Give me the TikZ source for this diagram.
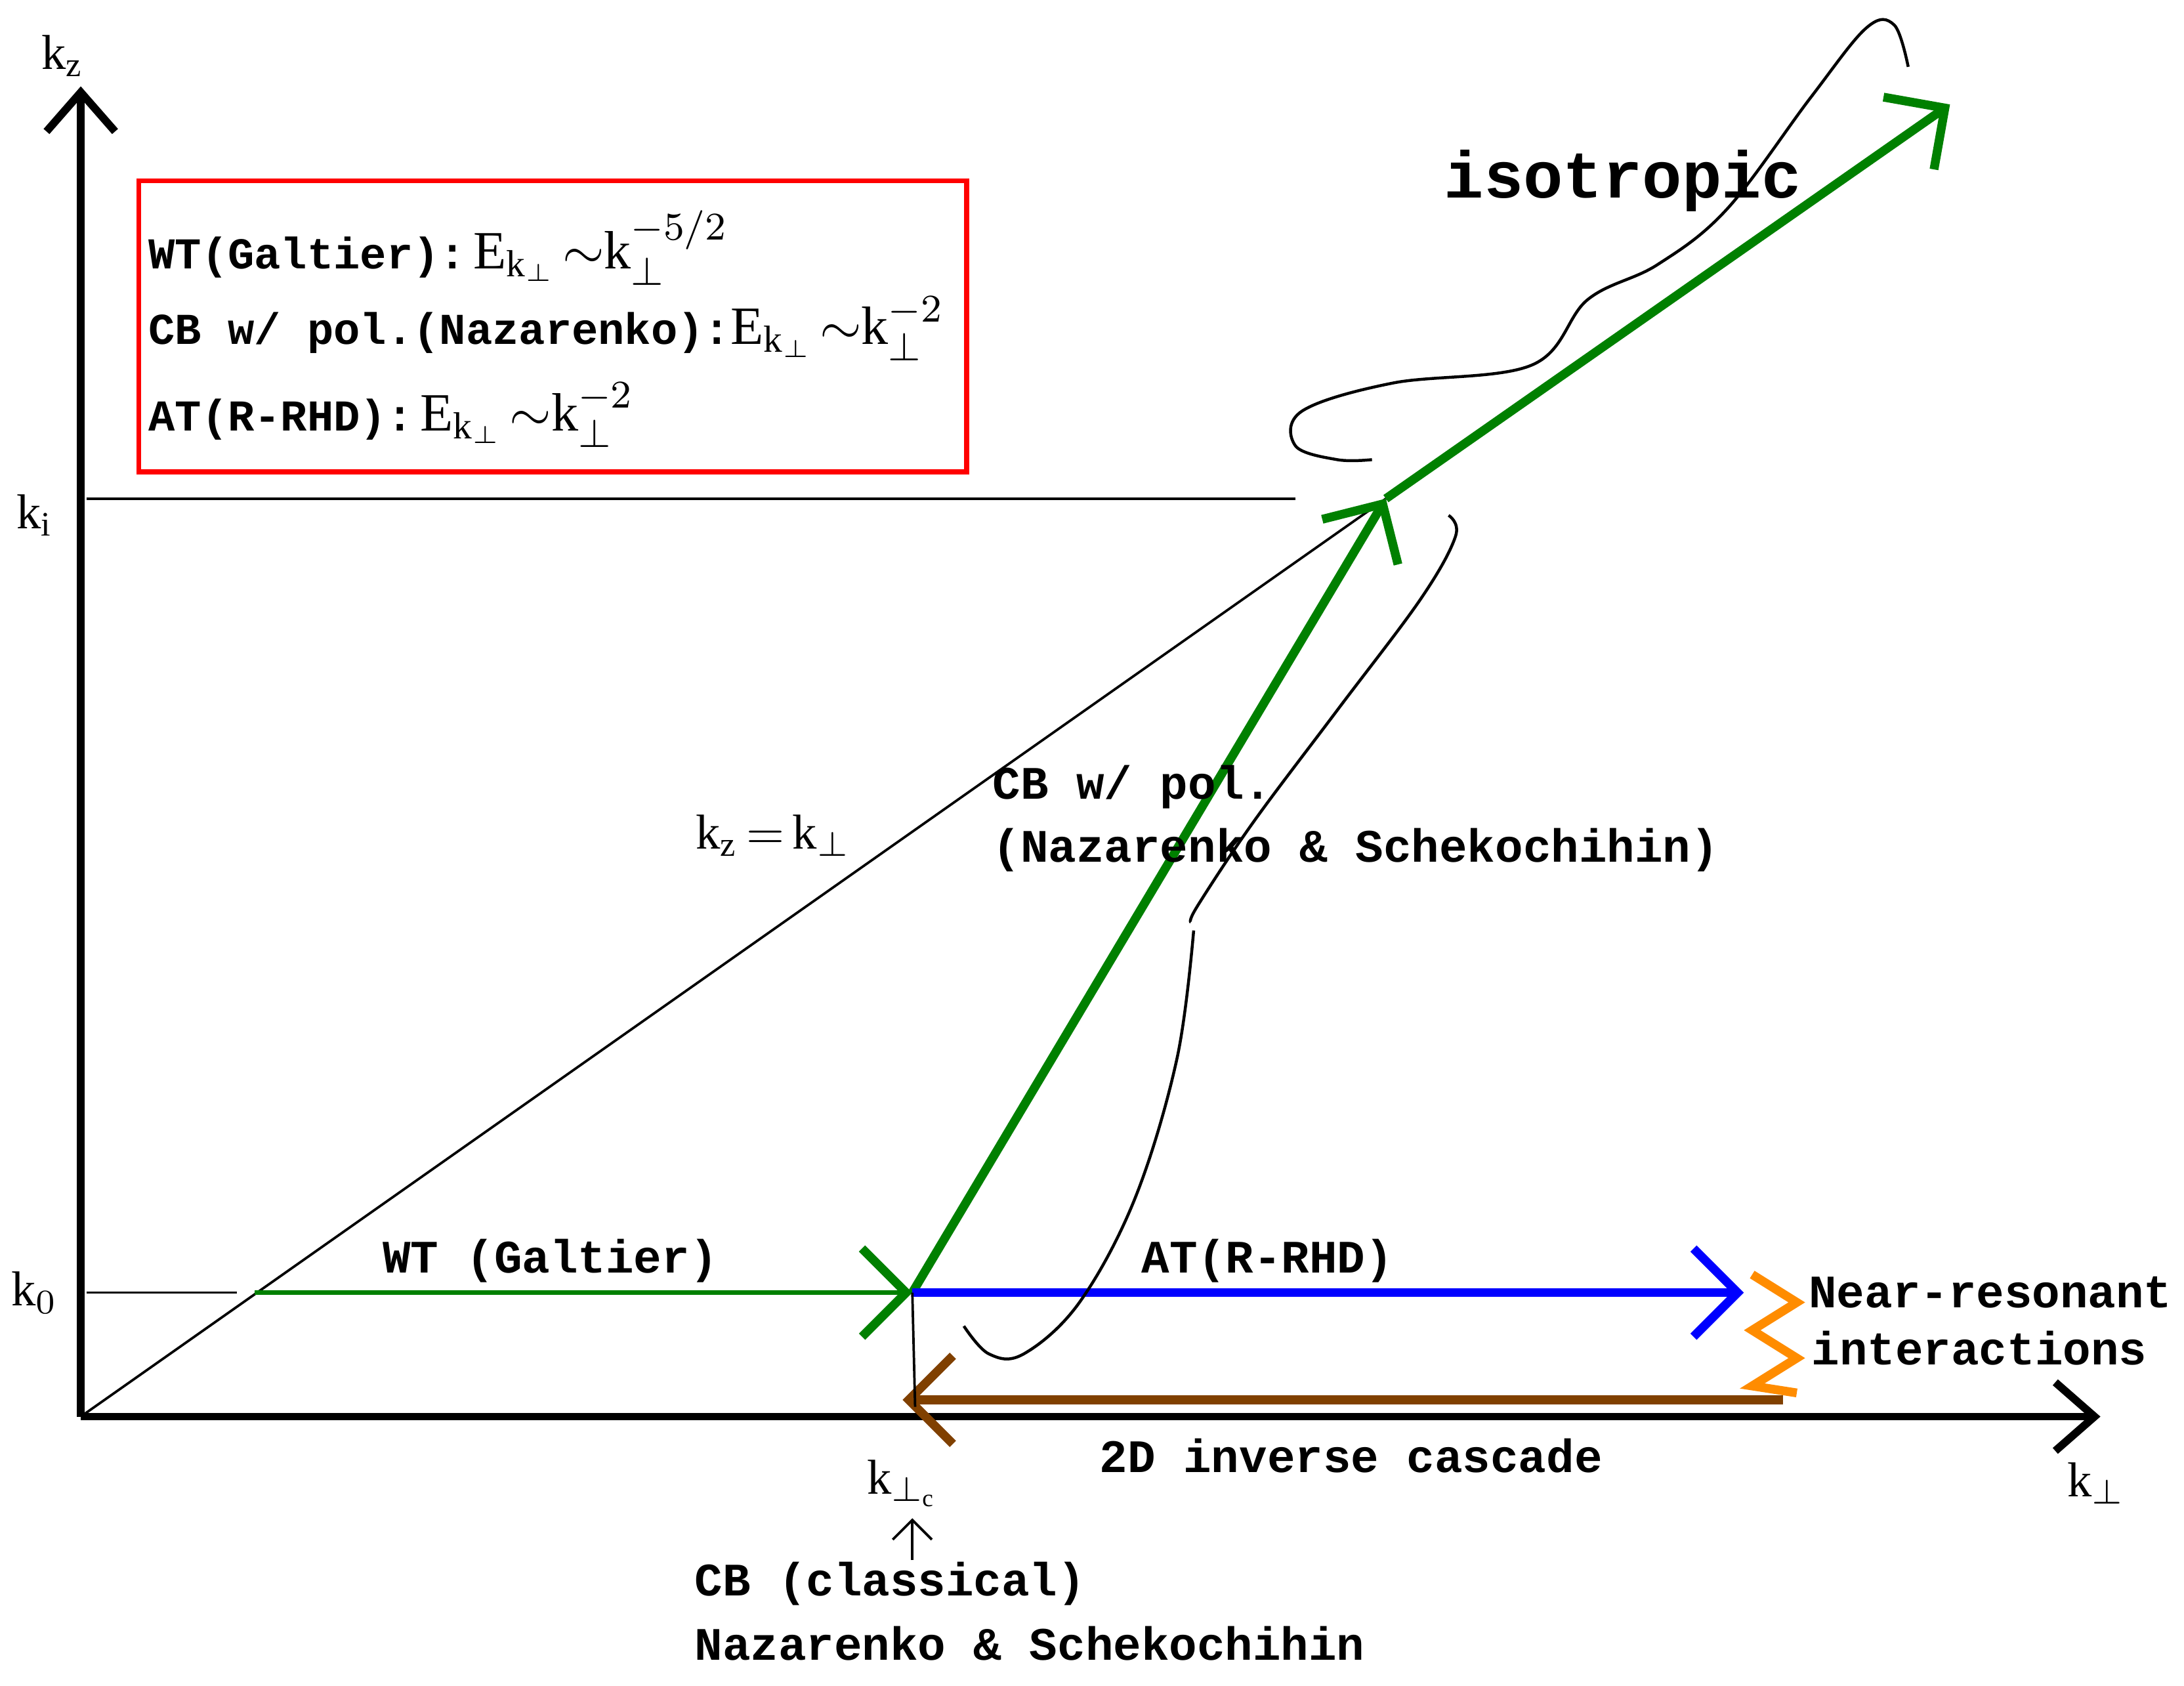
\documentclass[tikz,border=0pt]{standalone}
\usepackage{fontspec}
\setmainfont{Liberation Serif}
\newfontfamily\monob{Liberation Mono}[BoldFont=* Bold]
\usetikzlibrary{positioning, arrows.meta}
\definecolor{dgreen}{RGB}{0,128,0}
\definecolor{brownc}{RGB}{128,64,0}
\definecolor{orangec}{RGB}{255,140,0}

\begin{document}
\begin{tikzpicture}[x=0.01cm,y=-0.01cm,
    lbl/.style={font=\monob\bfseries\fontsize{9.5}{11}\selectfont, inner sep=0pt},
    mth/.style={font=\fontsize{10}{12}\selectfont, inner sep=0pt},
    axis/.style={line width=1.6pt, -{Straight Barb[length=8pt,width=14pt,line width=1.6pt]}},
    flow/.style={line width=1.8pt, -{Straight Barb[length=9pt,width=18pt,line width=1.8pt]}},
    thin/.style={line width=0.5pt},
    hand/.style={line width=0.6pt}
]
\useasboundingbox (0,0) rectangle (1568,1210);

% axes
\coordinate (o) at (58,1017);
\coordinate (ztop) at (58,62);
\coordinate (xend) at (1508,1017);
\draw[axis] (o) -- (ztop);
\draw[axis] (o) -- (xend);
\node[mth] (kz) at (45,40) {k\textsubscript{z}};
\node[mth] (kp) at (1505,1065) {k$_\perp$};

% legend box
\node[draw=red, line width=1pt, minimum width=5.94cm, minimum height=2.09cm, anchor=north west] (box) at (98,128) {};
\node[anchor=west, inner sep=0pt] (l1) at (106,178) {\monob\bfseries\fontsize{9}{11}\selectfont WT(Galtier):\,\rmfamily\mdseries\fontsize{11}{12}\selectfont E$_{\mathrm{k}_\perp}\!\sim$k$_\perp^{-5/2}$};
\node[anchor=west, inner sep=0pt] (l2) at (106,236) {\monob\bfseries\fontsize{9}{11}\selectfont CB w/ pol.(Nazarenko):\rmfamily\mdseries\fontsize{11}{12}\selectfont E$_{\mathrm{k}_\perp}\!\sim$k$_\perp^{-2}$};
\node[anchor=west, inner sep=0pt] (l3) at (106,298) {\monob\bfseries\fontsize{9}{11}\selectfont AT(R-RHD):\,\rmfamily\mdseries\fontsize{11}{12}\selectfont E$_{\mathrm{k}_\perp}\!\sim$k$_\perp^{-2}$};

% reference lines
\coordinate (kia) at (62,358);
\coordinate (kib) at (930,358);
\draw[thin] (kia) -- (kib);
\node[mth] (ki) at (25,370) {k$_\mathrm{i}$};
\coordinate (k0a) at (62,928);
\coordinate (k0b) at (170,928);
\draw[thin] (k0a) -- (k0b);
\node[mth] (k0) at (25,928) {k$_0$};
\coordinate (diag) at (995,358);
\draw[thin] (o) -- (diag);
\node[mth] (eq) at (555,600) {k\textsubscript{z}$\,=\,$k$_\perp$};

% cascades
\coordinate (wt0) at (183,928);
\coordinate (kc) at (655,928);
\coordinate (pk) at (995,358);
\coordinate (iso) at (1400,75);
\coordinate (at) at (1252,928);
\draw[flow, dgreen, line width=1pt] (wt0) -- (kc);
\draw[flow, dgreen] (kc) -- (pk);
\draw[flow, dgreen] (pk) -- (iso);
\draw[flow, blue] (kc) -- (at);
\coordinate (br0) at (1280,1005);
\coordinate (br1) at (648,1005);
\draw[flow, brownc] (br0) -- (br1);
\coordinate (kcb) at (657,1010);
\draw[thin] (kc) -- (kcb);
\draw[orangec, line width=1.8pt] (1258,915) -- (1290,935) -- (1258,955) -- (1290,975) -- (1258,995) -- (1290,1000);

% hand-drawn loop
\draw[hand] plot[smooth, tension=0.6] coordinates {(1370,48) (1360,18) (1340,20) (1300,70) (1240,150) (1190,190) (1140,215) (1100,262) (1000,275) (935,295) (930,320) (960,330) (985,330)};
\draw[hand] plot[smooth, tension=0.6] coordinates {(1040,370) (1045,385) (1020,430) (960,510) (900,590) (860,650) (855,662)};
\draw[hand] plot[smooth, tension=0.6] coordinates {(857,668) (845,760) (815,860) (775,935) (735,972) (710,972) (692,952)};

% labels
\node[lbl] (wtl) at (395,905) {WT (Galtier)};
\node[lbl] (atl) at (910,905) {AT(R-RHD)};
\node[lbl, anchor=west] (cb1) at (712,565) {CB w/ pol.};
\node[lbl, anchor=west] (cb2) at (712,610) {(Nazarenko \& Schekochihin)};
\node[lbl, font=\monob\bfseries\fontsize{13.5}{15}\selectfont] (isol) at (1165,130) {isotropic};
\node[lbl, anchor=west] (nr1) at (1298,928) {Near-resonant};
\node[lbl, anchor=west] (nr2) at (1300,968) {interactions};
\node[lbl] (inv) at (970,1045) {2D inverse cascade};
\node[mth] (kpc) at (648,1065) {k$_{\perp_\mathrm{c}}$};
\coordinate (ar0) at (655,1120);
\coordinate (ar1) at (655,1090);
\draw[thin, -{Straight Barb[length=4pt,width=8pt]}] (ar0) -- (ar1);
\node[lbl, anchor=west] (cl1) at (498,1137) {CB (classical)};
\node[lbl, anchor=west] (cl2) at (498,1180) {Nazarenko \& Schekochihin};
\end{tikzpicture}
\end{document}
